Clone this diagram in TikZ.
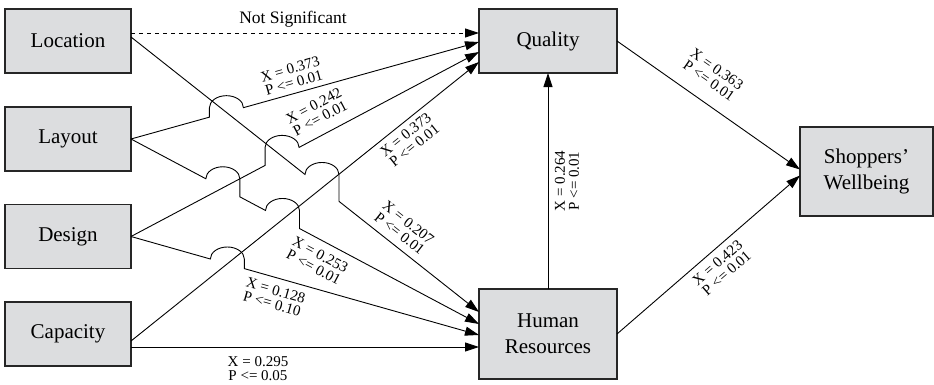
\documentclass[tikz,border=0pt]{standalone}
\usepackage{fontspec}
\setmainfont{Liberation Serif}
\usetikzlibrary{arrows.meta}
\definecolor{boxgray}{RGB}{220,221,223}
% hop over a crossing line: x and y of the crossing, slope of the line
\def\linehop#1#2#3{-- ({#1-17},{#2-17*(#3)}) -- ({#1-17},{#2+17*abs(#3)}) arc[start angle=180,end angle=0,x radius=17,y radius=12] -- ({#1+17},{#2+17*(#3)})}

\begin{document}
\begin{tikzpicture}[x=1pt,y=1pt,
    box/.style={draw=black!85, line width=1.2pt, fill=boxgray, minimum width=126pt, minimum height=64pt,
        inner sep=0pt, outer sep=0pt, align=center, font=\fontsize{21}{26}\selectfont},
    link/.style={line width=0.9pt, -{Triangle[length=14pt,width=9pt]}},
    coef/.style={inner sep=0pt, align=center, font=\fontsize{15}{14}\selectfont}]
			%%%%% START %%%%%
			\useasboundingbox (0,0) rectangle (934,384);
			
			\node[box] (loc) at (68,343) {Location};
			\node[box] (lay) at (68,245) {Layout};
			\node[box] (des) at (68,147.5) {Design};
			\node[box] (cap) at (68,50) {Capacity};
			
			\node[box, minimum width=138pt] (qual) at (548,343) {Quality};
			\node[box, minimum width=138pt, minimum height=90pt] (hr) at (548,50) {Human\\Resources};
			\node[box, minimum width=133pt, minimum height=89pt] (sw) at (866.5,212.5) {Shoppers'\\Wellbeing};
			
			\draw[link, dash pattern=on 4pt off 4pt] ([yshift=8pt]loc.east) -- ([yshift=8pt]qual.west);
			\node[font=\fontsize{17.5}{20}\selectfont, inner sep=0pt] (ns) at (293,365) {Not Significant};
			
			\draw[link] (lay.east) \linehop{226.43}{271.6}{0.2787} -- ([yshift=-1pt]qual.west);
			\draw[link] (des.east) \linehop{282.09}{227.6}{0.5302} -- ([yshift=-11pt]qual.west);
			\draw[link] ([yshift=-7pt]cap.east) -- ([yshift=-21pt]qual.west);
			
			\draw[link] ([yshift=4pt]loc.east) \linehop{321.97}{196.1}{-0.7902} -- ([yshift=22pt]hr.west);
			\draw[link] (lay.east) \linehop{222.83}{196.2}{-0.5316} \linehop{282.5}{164.5}{-0.5316} -- ([yshift=10pt]hr.west);
			\draw[link] (des.east) \linehop{227.34}{120.2}{-0.2830} -- ([yshift=-1pt]hr.west);
			\draw[link] ([yshift=-13pt]cap.east) -- ([yshift=-13pt]hr.west);
			
			\draw[link] (hr.north) -- (qual.south);
			\draw[link] (qual.east) -- ([yshift=2pt]sw.west);
			\draw[link] (hr.east) -- ([yshift=-4pt]sw.west);
			
			\node[coef, rotate=15.6] (c1) at (292,308) {X = 0.373\\P <= 0.01};
			\node[coef, rotate=27.9] (c2) at (317,272) {X = 0.242\\P <= 0.01};
			\node[coef, rotate=38.7] (c3) at (410,244) {X = 0.373\\P <= 0.01};
			\node[coef, rotate=-38.3] (c4) at (404,156) {X = 0.207\\P <= 0.01};
			\node[coef, rotate=-28] (c5) at (317,123) {X = 0.253\\P <= 0.01};
			\node[coef, rotate=-15.8] (c6) at (274,87) {X = 0.128\\P <= 0.10};
			\node[coef] (c7) at (258,15) {X = 0.295\\P <= 0.05};
			\node[coef, rotate=90] (c8) at (567,203) {X = 0.264\\P <= 0.01};
			\node[coef, rotate=-34.9] (c9) at (713,309) {X = 0.363\\P <= 0.01};
			\node[coef, rotate=40.9] (c10) at (722,116) {X = 0.423\\P <= 0.01};
			%%%%% END %%%%%
\end{tikzpicture}
\end{document}
